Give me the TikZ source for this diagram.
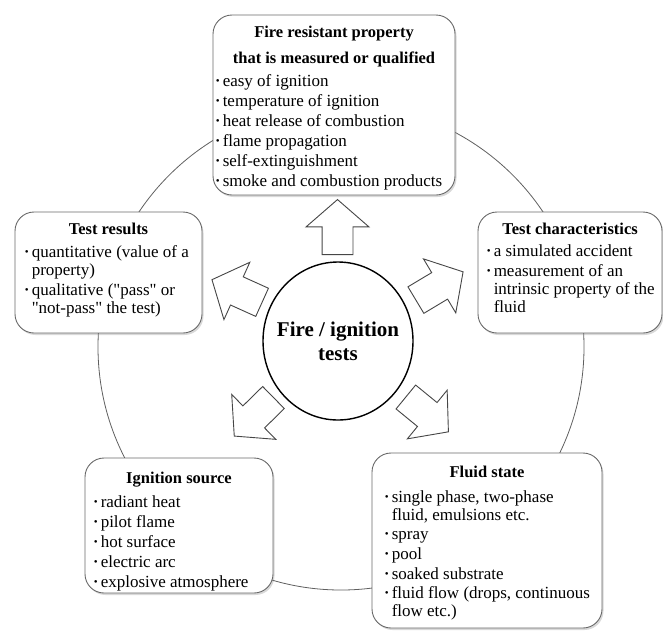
\documentclass[tikz,border=0pt]{standalone}
\usepackage{fontspec}
\setmainfont{Liberation Serif}
\usepackage{tikz}
\usetikzlibrary{positioning,shapes.geometric,shapes.arrows,shadows}
\definecolor{ringgray}{RGB}{95,95,95}
\definecolor{boxgray}{RGB}{105,105,105}
\definecolor{arrowgray}{RGB}{70,70,70}

\newcommand{\bul}{\strut\makebox[7pt][l]{\raisebox{1.8pt}{\fontsize{11}{11}\selectfont\textbullet}}}
\newcommand{\cnt}{\strut\hspace*{7pt}}
\newcommand{\qq}{\textquotedbl}

\begin{document}
\begin{tikzpicture}[
  x=1pt, y=-1pt,
  every node/.style={font=\fontsize{17}{18}\selectfont},
  ring/.style={draw=ringgray, line width=0.8pt},
  card/.style={rectangle, rounded corners=19pt, draw=boxgray, line width=0.9pt, fill=white,
    drop shadow={shadow xshift=1.5pt, shadow yshift=-2pt, opacity=0.3}},
  card_title/.style={font=\fontsize{16.5}{18}\selectfont\bfseries, align=center, inner sep=0pt},
  card_items/.style={align=left, inner sep=0pt},
  hub/.style={ellipse, draw=black, line width=1.4pt, fill=white, inner sep=0pt,
    minimum width=150pt, minimum height=158pt},
  hub_text/.style={font=\fontsize{21}{24}\selectfont\bfseries, align=center, inner sep=0pt},
  blockarrow/.style={single arrow, draw=arrowgray, line width=0.9pt, fill=white, minimum height=55pt,
    inner sep=0pt, inner ysep=15pt, single arrow head extend=16pt, single arrow tip angle=98, anchor=tail}
]
\useasboundingbox (0,0) rectangle (663,630);

% outer ring
\draw[ring] (341,347) circle[radius=243];

% Boxes
\node[card, minimum width=242pt, minimum height=180pt] (prop) at (334,105) {};
\node[card, minimum width=187pt, minimum height=121pt] (res) at (108.5,272.5) {};
\node[card, minimum width=184pt, minimum height=121pt] (chars) at (570,272.5) {};
\node[card, minimum width=188pt, minimum height=135pt] (ign) at (179,525.5) {};
\node[card, minimum width=230pt, minimum height=175pt] (fluid) at (487,540.5) {};

% Fire resistant property
\node[card_title, below=10.4pt of prop.north] {\strut Fire resistant property\\[8pt]that is measured or qualified};
\node[card_items, below right=59.4pt and 3pt of prop.north west]
  {\bul easy of ignition\\[2pt]\bul temperature of ignition\\[2pt]\bul heat release of combustion\\[2pt]
   \bul flame propagation\\[2pt]\bul self-extinguishment\\[2pt]\bul smoke and combustion products};

% Test results
\node[card_title, below=10.4pt of res.north] {\strut Test results};
\node[card_items, below right=33.4pt and 10pt of res.north west]
  {\bul quantitative (value of a\\\cnt property)\\[2pt]\bul qualitative (\qq pass\qq{} or\\\cnt \qq not-pass\qq{} the test)};

% Test characteristics
\node[card_title, below=10.4pt of chars.north] {\strut Test characteristics};
\node[card_items, below right=32.4pt and 9pt of chars.north west]
  {\bul a simulated accident\\[2pt]\bul measurement of an\\\cnt intrinsic property of the\\\cnt fluid};

% Ignition source
\node[card_title, below=13.4pt of ign.north] {\strut Ignition source};
\node[card_items, below right=37.4pt and 9pt of ign.north west]
  {\bul radiant heat\\[2pt]\bul pilot flame\\[2pt]\bul hot surface\\[2pt]\bul electric arc\\[2pt]\bul explosive atmosphere};

% Fluid state
\node[card_title, below=12.4pt of fluid.north] {\strut Fluid state};
\node[card_items, below right=37.4pt and 13pt of fluid.north west]
  {\bul single phase, two-phase\\\cnt fluid, emulsions etc.\\[1pt]\bul spray\\[2pt]\bul pool\\[2pt]\bul soaked substrate\\[1pt]
   \bul fluid flow (drops, continuous\\\cnt flow etc.)};

% block arrows
\node[blockarrow, rotate=90] (toprop) at (337.5,255) {};
\node[blockarrow, rotate=30.9] (tochars) at (415.5,300.3) {};
\node[blockarrow, rotate=-39.3] (tofluid) at (405.5,396.7) {};
\node[blockarrow, rotate=224.5] (toign) at (273.8,397.2) {};
\node[blockarrow, rotate=155.7] (tores) at (262.5,302.5) {};

% centre
\node[hub] (hub) at (338,341) {};
\node[hub_text] at (hub.center) {Fire / ignition\\tests};

\end{tikzpicture}
\end{document}
